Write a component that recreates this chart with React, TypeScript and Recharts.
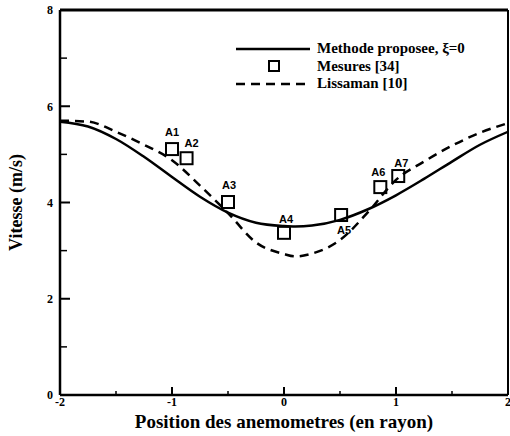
import React from "react";
import {
  ComposedChart,
  Line,
  Scatter,
  XAxis,
  YAxis,
  ReferenceLine,
  Legend,
  LabelList,
} from "recharts";

// positions along the span (in rotor radius)
const positions = [-2, -1.75, -1.5, -1.25, -1, -0.75, -0.5, -0.25, 0, 0.1, 0.25, 0.5, 0.75, 1, 1.25, 1.5, 1.75, 2];
const methodeProposee = [5.68, 5.58, 5.32, 4.95, 4.53, 4.12, 3.79, 3.58, 3.51, 3.5, 3.52, 3.64, 3.86, 4.15, 4.49, 4.85, 5.2, 5.47];
const lissaman = [5.7, 5.68, 5.47, 5.2, 4.88, 4.35, 3.78, 3.17, 2.93, 2.88, 2.94, 3.22, 3.8, 4.47, 4.85, 5.18, 5.45, 5.65];

// anemometer measurements [34]
const mesureNames = ["A1", "A2", "A3", "A4", "A5", "A6", "A7"];
const mesureX = [-1, -0.87, -0.5, 0, 0.51, 0.86, 1.02];
const mesureY = [5.11, 4.92, 4.01, 3.37, 3.74, 4.32, 4.55];

// major ticks get a label, minor ones only a short mark
const xTicks = [-2, -1.5, -1, -0.5, 0, 0.5, 1, 1.5, 2];
const yTicks = [0, 1, 2, 3, 4, 5, 6, 7, 8];

const lineData = positions.map((x, i) => ({
  x,
  methode: methodeProposee[i],
  lissaman: lissaman[i],
}));
const mesures = mesureNames.map((name, i) => ({ name, x: mesureX[i], y: mesureY[i] }));

// where each point label sits relative to its square
const labelOffset: Record<string, [number, number]> = {
  A1: [0, -17],
  A2: [5, -15],
  A3: [1, -17],
  A4: [2, -14],
  A5: [3, 15],
  A6: [-2, -15],
  A7: [3, -13],
};

const serif = "'Liberation Serif', 'Times New Roman', serif";
const X_MARGIN = 2;
const Y_MARGIN = 7;

const XTick = (props: any) => {
  const { x, y, payload } = props;
  const v = payload.value;
  const major = Number.isInteger(v);
  const axisY = y - X_MARGIN;
  const inner = v > -2 && v < 2;
  return (
    <g>
      {inner && (
        <line x1={x} y1={axisY} x2={x} y2={axisY - (major ? 8 : 4)} stroke="#000" strokeWidth={major ? 2 : 1.5} />
      )}
      {major && (
        <text x={x} y={y} dy="0.71em" textAnchor="middle" fontFamily={serif} fontWeight="bold" fontSize={12} fill="#000">
          {v}
        </text>
      )}
    </g>
  );
};

const YTick = (props: any) => {
  const { x, y, payload } = props;
  const v = payload.value;
  const major = v % 2 === 0;
  const axisX = x + Y_MARGIN;
  const inner = v > 0 && v < 8;
  return (
    <g>
      {inner && (
        <line x1={axisX} y1={y} x2={axisX + (major ? 10 : 7)} y2={y} stroke="#000" strokeWidth={major ? 2 : 1.5} />
      )}
      {major && (
        <text x={x} y={y} dy="0.355em" textAnchor="end" fontFamily={serif} fontWeight="bold" fontSize={12} fill="#000">
          {v}
        </text>
      )}
    </g>
  );
};

const Square = (props: any) => {
  const { cx, cy } = props;
  return <rect x={cx - 6} y={cy - 6} width={12} height={12} fill="none" stroke="#000" strokeWidth={2} />;
};

const PointLabel = (props: any) => {
  const { x, y, width, height, value } = props;
  const cx = x + (width || 0) / 2;
  const cy = y + (height || 0) / 2;
  const [dx, dy] = labelOffset[value] || [0, -15];
  return (
    <text
      x={cx + dx}
      y={cy + dy}
      textAnchor="middle"
      dominantBaseline="central"
      fontFamily="'Liberation Sans', Arial, sans-serif"
      fontWeight="bold"
      fontSize={11}
      fill="#000"
    >
      {value}
    </text>
  );
};

const LegendBox = () => {
  const row = { display: "flex", alignItems: "center", height: 17.5 };
  const txt = { fontFamily: serif, fontWeight: "bold" as const, fontSize: 15, color: "#000", marginLeft: 7, whiteSpace: "nowrap" as const };
  return (
    <div>
      <div style={row}>
        <svg width={74} height={10}>
          <line x1={0} y1={5} x2={74} y2={5} stroke="#000" strokeWidth={2.5} />
        </svg>
        <span style={txt}>Methode proposee, ξ=0</span>
      </div>
      <div style={row}>
        <svg width={74} height={14}>
          <rect x={33} y={2} width={10} height={10} fill="none" stroke="#000" strokeWidth={2} />
        </svg>
        <span style={txt}>Mesures [34]</span>
      </div>
      <div style={row}>
        <svg width={74} height={10}>
          <line x1={0} y1={5} x2={74} y2={5} stroke="#000" strokeWidth={2.5} strokeDasharray="9 6" />
        </svg>
        <span style={txt}>Lissaman [10]</span>
      </div>
    </div>
  );
};

export default function App() {
  return (
    <div style={{ position: "absolute", left: 0, top: 0, background: "#fff" }}>
      <ComposedChart width={510} height={436} margin={{ top: 10, right: 2, left: 0, bottom: 0 }}>
        <XAxis
          type="number"
          dataKey="x"
          domain={[-2, 2]}
          ticks={xTicks}
          interval={0}
          allowDataOverflow
          height={41}
          tickLine={false}
          tickSize={0}
          tickMargin={X_MARGIN}
          tick={<XTick />}
          axisLine={{ stroke: "#000", strokeWidth: 2.5 }}
          label={{
            value: "Position des anemometres (en rayon)",
            position: "insideBottom",
            offset: 8,
            style: { fontFamily: serif, fontWeight: "bold", fontSize: 19, fill: "#000" },
          }}
        />
        <YAxis
          type="number"
          dataKey="y"
          domain={[0, 8]}
          ticks={yTicks}
          interval={0}
          allowDataOverflow
          width={60}
          tickLine={false}
          tickSize={0}
          tickMargin={Y_MARGIN}
          tick={<YTick />}
          axisLine={{ stroke: "#000", strokeWidth: 2.5 }}
          label={{
            value: "Vitesse (m/s)",
            angle: -90,
            position: "insideLeft",
            offset: 16,
            style: { textAnchor: "middle", fontFamily: serif, fontWeight: "bold", fontSize: 18, fill: "#000" },
          }}
        />
        <ReferenceLine y={8} stroke="#000" strokeWidth={3} />
        <ReferenceLine x={2} stroke="#000" strokeWidth={2} />
        <Line
          data={lineData}
          dataKey="methode"
          type="monotone"
          stroke="#000"
          strokeWidth={2.5}
          dot={false}
          activeDot={false}
          isAnimationActive={false}
        />
        <Line
          data={lineData}
          dataKey="lissaman"
          type="monotone"
          stroke="#000"
          strokeWidth={2.5}
          strokeDasharray="9 6"
          dot={false}
          activeDot={false}
          isAnimationActive={false}
        />
        <Scatter data={mesures} dataKey="y" shape={<Square />} isAnimationActive={false}>
          <LabelList dataKey="name" content={<PointLabel />} />
        </Scatter>
        <Legend
          layout="vertical"
          verticalAlign="middle"
          align="center"
          wrapperStyle={{ left: 236, top: 40, width: 270 }}
          content={<LegendBox />}
        />
      </ComposedChart>
    </div>
  );
}
